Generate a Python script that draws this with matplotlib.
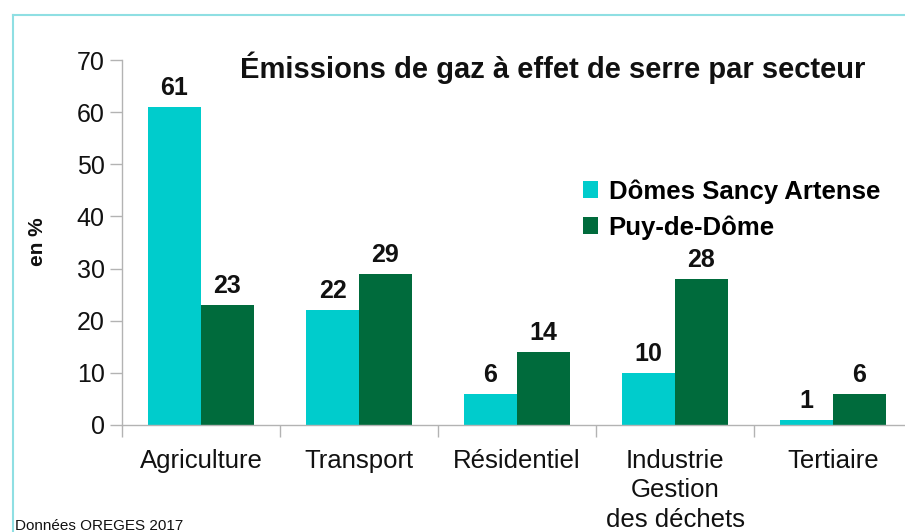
import matplotlib
matplotlib.use("Agg")
import matplotlib.pyplot as plt
from matplotlib.lines import Line2D
from matplotlib.patches import Patch

categories = ["Agriculture", "Transport", "Résidentiel", "Industrie\nGestion\ndes déchets", "Tertiaire"]
series_names = ["Dômes Sancy Artense", "Puy-de-Dôme"]
dsa_values = [61, 22, 6, 10, 1]
pdd_values = [23, 29, 14, 28, 6]
yticks = [0, 10, 20, 30, 40, 50, 60, 70]
title = "Émissions de gaz à effet de serre par secteur"
ylabel = "en %"
source = "Données OREGES 2017"

colors = ["#00CCCC", "#006B3C"]
axis_gray = "#B3B3B3"

plt.rcParams['font.family'] = ['Liberation Sans', 'DejaVu Sans']

W, H = 905, 532
fig = plt.figure(figsize=(W / 100, H / 100), dpi=100)

# frame
fig.add_artist(Line2D([13 / W, 13 / W], [0, 1 - 15 / H], color="#8FDFE3", lw=1.5, transform=fig.transFigure))
fig.add_artist(Line2D([13 / W, 1], [1 - 15 / H, 1 - 15 / H], color="#8FDFE3", lw=1.5, transform=fig.transFigure))

left, right, bottom, top = 122, 912, 425, 60
ax = fig.add_axes([left / W, 1 - bottom / H, (right - left) / W, (bottom - top) / H])
ax.set_facecolor("none")

bw = 0.335
x = list(range(len(categories)))
series = [dsa_values, pdd_values]
for k, (vals, c) in enumerate(zip(series, colors)):
    offs = (k - 0.5) * bw
    ax.bar([xi + offs for xi in x], vals, width=bw, color=c, label=series_names[k], zorder=2)
    for xi, v in zip(x, vals):
        ax.annotate(str(v), (xi + offs, v), xytext=(0, 5), textcoords="offset points",
                    ha="center", va="bottom", fontsize=18, fontweight="bold", color="#111111")

ax.set_xlim(-0.5, len(categories) - 0.5)
ax.set_ylim(0, 70)
ax.set_yticks(yticks)
ax.set_yticklabels([str(t) for t in yticks], fontsize=18, color="#111111")
ax.set_xticks(x)
ax.set_xticklabels(categories, fontsize=18.5, color="#111111", linespacing=1.27, va="top")
ax.set_xticks([i - 0.5 for i in range(len(categories) + 1)], minor=True)
ax.tick_params(axis="x", which="major", length=0, pad=17.5)
ax.tick_params(axis="x", which="minor", length=8.5, color=axis_gray, width=1)
ax.tick_params(axis="y", length=8.5, color=axis_gray, width=1, pad=4)

for s in ["top", "right"]:
    ax.spines[s].set_visible(False)
for s in ["left", "bottom"]:
    ax.spines[s].set_color(axis_gray)
    ax.spines[s].set_linewidth(1)

fig.text(37 / W, 1 - 242 / H, ylabel, rotation=90, ha="center", va="center",
         fontsize=15, fontweight="bold", color="#111111")
fig.text(553 / W, 1 - 68 / H, title, ha="center", va="center",
         fontsize=21, fontweight="bold", color="#111111")
fig.text(15 / W, 1 - 530 / H, source, ha="left", va="baseline", fontsize=11, color="#111111")

handles = [Patch(facecolor=c, edgecolor="none") for c in colors]
fig.legend(handles, series_names, loc="upper left", bbox_to_anchor=(583 / W, 1 - 179 / H),
           frameon=False, prop={"size": 18.5, "weight": "bold"},
           handlelength=0.6, handleheight=0.6, handletextpad=0.4, labelspacing=0.45,
           borderaxespad=0, borderpad=0)

fig.savefig("out.png", dpi=100)
